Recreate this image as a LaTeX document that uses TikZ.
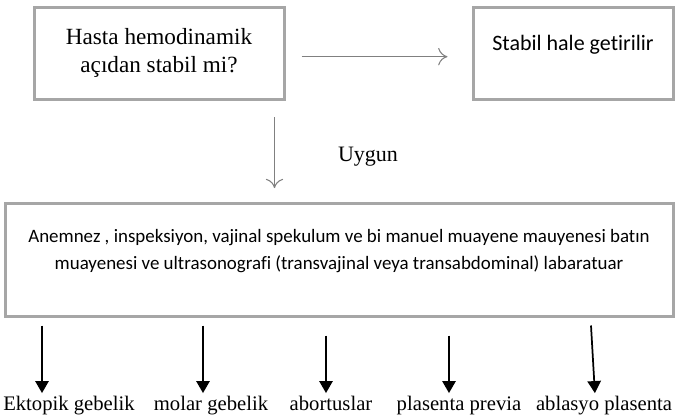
\documentclass[tikz,border=0pt]{standalone}
\usepackage{fontspec}
\setmainfont{Liberation Serif}
\newfontfamily\calibri[Ligatures=NoCommon]{Carlito}
\usetikzlibrary{arrows.meta}
\tikzset{
	kutu/.style = {draw = gray!70, line width = 2.25pt, inner sep = 0pt, align = center},
	griok/.style = {gray, line width = 0.8pt, -{To[length = 7pt, width = 13pt]}},
	siyahok/.style = {black, line width = 1.3pt, -{Triangle[length = 9pt, width = 10pt]}},
	etiket/.style = {inner sep = 0pt, anchor = base, text height = 11pt, text depth = 3.5pt, font = \fontsize{15.5pt}{18pt}\selectfont}
}
\begin{document}
\begin{tikzpicture}[x = 0.75pt, y = -0.75pt]
		\useasboundingbox (0,0) rectangle (678,417);
		
		%top row
		\node [kutu, minimum width = 187.5pt, minimum height = 69pt, text depth = 6pt, font = \fontsize{17.4pt}{21pt}\selectfont] (hasta) at (159,54) {Hasta hemodinamik\\açıdan stabil mi?};
		\node [kutu, minimum width = 150pt, minimum height = 69pt, text depth = 16pt, font = \calibri\fontsize{16.5pt}{20pt}\selectfont] (stabil) at (573,54) {Stabil hale getirilir};
		\draw [griok, shorten <= 12pt, shorten >= 18pt] ([yshift = -2pt]hasta.east) -- ([yshift = -2pt]stabil.west);
		
		%middle
		\node [kutu, minimum width = 501pt, minimum height = 84.75pt, text depth = 15pt, font = \calibri\fontsize{14.2pt}{20.25pt}\selectfont] (muayene) at (339,259.5) {Anemnez , inspeksiyon, vajinal spekulum ve bi manuel muayene mauyenesi batın\\muayenesi ve ultrasonografi (transvajinal veya transabdominal) labaratuar};
		\draw [griok, shorten <= 12pt, shorten >= 10pt] ([xshift = -8.25pt]hasta.south east) -- ([xshift = -8.25pt]hasta.south east |- muayene.north);
		\node [inner sep = 0pt, font = \fontsize{16.5pt}{20pt}\selectfont] (uygun) at (368,157) {Uygun};
		
		%bottom labels
		\node [etiket] (ektopik) at (69,410) {Ektopik gebelik};
		\node [etiket] (molar) at (211,410) {molar gebelik};
		\node [etiket] (abortus) at (331,410) {abortuslar};
		\node [etiket] (previa) at (459,410) {plasenta previa};
		\node [etiket] (ablasyo) at (604,410) {ablasyo plasenta};
		
		%arrows down
		\foreach \ad/\xa/\ya/\xb in {ektopik/42/8/42, molar/203/8/203, abortus/326/18/326, previa/449/18/449, ablasyo/591/8/595}
			\draw [siyahok, shorten >= 1.5pt] (muayene.south -| \xa,0) ++(0,\ya) -- (\xb,0 |- \ad.north);
\end{tikzpicture}
\end{document}
